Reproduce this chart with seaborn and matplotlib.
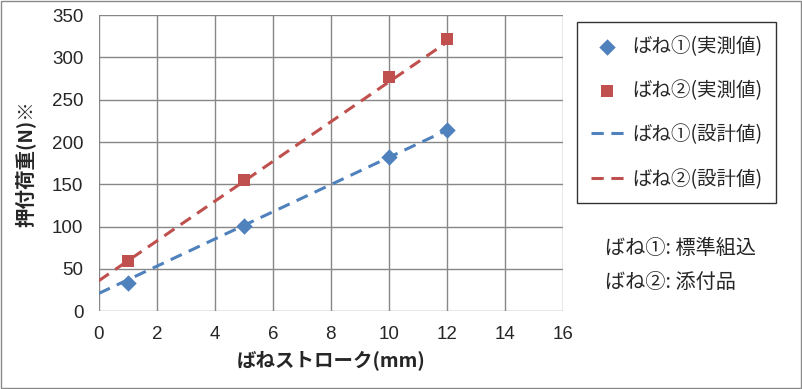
import matplotlib.pyplot as plt
import seaborn as sns
import pandas as pd
from matplotlib.patches import Rectangle

# measured values
stroke = [1, 5, 10, 12]
spring1_meas = [33, 101, 182, 214]
spring2_meas = [59, 155, 277, 322]

# design lines (end points)
design_x = [0, 12]
spring1_design = [21, 214]
spring2_design = [36, 318]

labels = ["ばね①(実測値)", "ばね②(実測値)", "ばね①(設計値)", "ばね②(設計値)"]
notes = ["ばね①: 標準組込", "ばね②: 添付品"]

BLUE = "#4F81BD"
RED = "#C0504D"
GRID = "#878787"

sns.set_style("white")
plt.rcParams["font.family"] = ["Noto Sans CJK JP", "DejaVu Sans"]

meas = pd.DataFrame({"x": stroke, "s1": spring1_meas, "s2": spring2_meas})
design = pd.DataFrame({"x": design_x, "s1": spring1_design, "s2": spring2_design})

fig = plt.figure(figsize=(8.03, 3.89), dpi=100)
ax = fig.add_axes([0.123, 0.2, 0.578, 0.761])

sns.lineplot(data=design, x="x", y="s1", ax=ax, color=BLUE, linewidth=2.2,
             label=labels[2])
sns.lineplot(data=design, x="x", y="s2", ax=ax, color=RED, linewidth=2.2,
             label=labels[3])
for ln in ax.get_lines():
    ln.set_dashes([4, 2.5])
sns.scatterplot(data=meas, x="x", y="s1", ax=ax, color=BLUE, marker="D", s=70,
                edgecolor=BLUE, linewidth=0, label=labels[0], zorder=5)
sns.scatterplot(data=meas, x="x", y="s2", ax=ax, color=RED, marker="s", s=65,
                edgecolor=RED, linewidth=0, label=labels[1], zorder=5)

ax.set_xlim(0, 16)
ax.set_ylim(0, 350)
ax.set_xticks(range(0, 17, 2))
ax.set_yticks(range(0, 351, 50))
ax.grid(True, color=GRID, linewidth=1)
for sp in ax.spines.values():
    sp.set_visible(False)
ax.tick_params(axis="both", length=5, width=1, color=GRID, direction="out",
               labelsize=13.5, pad=6)
for t in ax.get_xticklabels() + ax.get_yticklabels():
    t.set_fontfamily(["Liberation Sans", "DejaVu Sans"])

ax.set_xlabel("ばねストローク(mm)", fontsize=14, fontweight="bold", labelpad=5)
ax.set_ylabel("押付荷重(N)※", fontsize=14, fontweight="bold", labelpad=12)

handles, labs = ax.get_legend_handles_labels()
order = [labs.index(l) for l in labels]
ax.legend_.remove()
leg = fig.legend([handles[i] for i in order], [labs[i] for i in order],
                 loc="upper left", bbox_to_anchor=(0.7186, 0.9434),
                 fontsize=14, frameon=True, fancybox=False,
                 edgecolor="black", labelspacing=1.2, handlelength=1.7,
                 handletextpad=0.45, borderpad=0.7, borderaxespad=0)
leg.get_frame().set_linewidth(1)

fig.text(0.753, 1 - 249 / 389, notes[0], fontsize=14.5, va="center")
fig.text(0.753, 1 - 283 / 389, notes[1], fontsize=14.5, va="center")

fig.patches.append(Rectangle((0.001, 0.002), 0.997, 0.995, transform=fig.transFigure,
                             fill=False, edgecolor="#8a8a8a", linewidth=1))

fig.savefig("out.png", dpi=100)
